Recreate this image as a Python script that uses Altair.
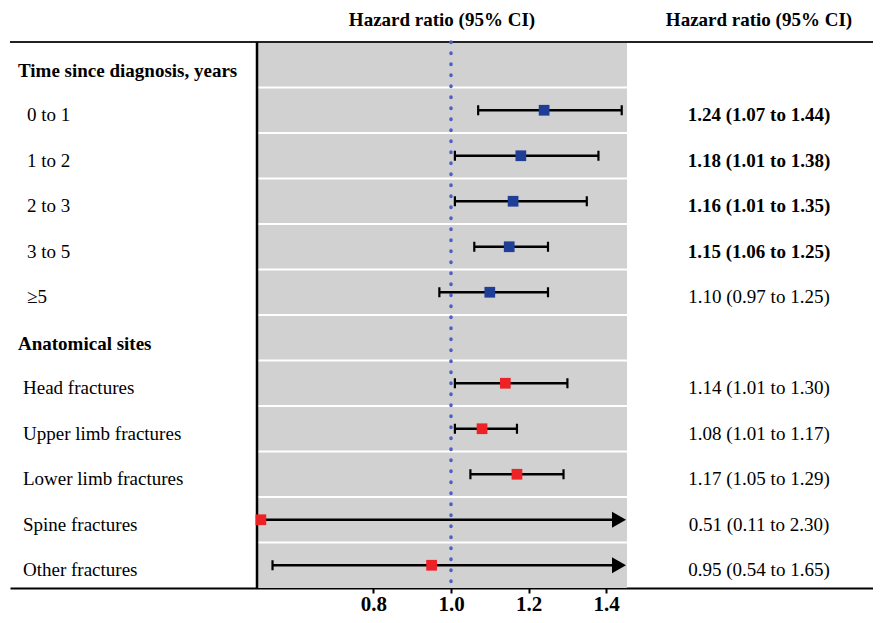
import altair as alt
import pandas as pd

# ---- data ----
labels = ["Time since diagnosis, years", "0 to 1", "1 to 2", "2 to 3", "3 to 5", "\u22655",
          "Anatomical sites", "Head fractures", "Upper limb fractures",
          "Lower limb fractures", "Spine fractures", "Other fractures"]
is_header = [True, False, False, False, False, False, True, False, False, False, False, False]
group = ["time", "time", "time", "time", "time", "time",
         "site", "site", "site", "site", "site", "site"]
hr = [None, 1.24, 1.18, 1.16, 1.15, 1.10, None, 1.14, 1.08, 1.17, 0.51, 0.95]
lo = [None, 1.07, 1.01, 1.01, 1.06, 0.97, None, 1.01, 1.01, 1.05, 0.11, 0.54]
hi = [None, 1.44, 1.38, 1.35, 1.25, 1.25, None, 1.30, 1.17, 1.29, 2.30, 1.65]
bold_ci = [False, True, True, True, True, False, False, False, False, False, False, False]
tick_values = [0.8, 1.0, 1.2, 1.4]
header_text = "Hazard ratio (95% CI)"

# ---- layout (scale space) ----
PX = 388.0                      # pixels per unit HR
X0, X1 = 1 + (10 - 451) / PX, 1 + (873 - 451) / PX
PMIN, PMAX = 0.5, 1 + (627 - 451) / PX
W, H = 863, 580                 # plot area: page x 10..873, y 8 .. 588
TOP = 34                        # top rule, px below plot top
R = (H - TOP) / 12.0            # row height in px
Y0, Y1 = -TOP / R, 12
FONT = "Liberation Serif"
FS = 19

def px2x(p):
    return 1 + (p - 451) / PX

xs = alt.Scale(domain=[X0, X1], nice=False, zero=False)
ys = alt.Scale(domain=[Y0, Y1], nice=False, zero=False, reverse=True)

def X(f, axis=False):
    if axis:
        return alt.X(f, type="quantitative", scale=xs,
                     axis=alt.Axis(values=tick_values, format=".1f", title="", grid=False,
                                   labelFont=FONT, labelFontSize=21, labelFontWeight="bold",
                                   labelColor="black", tickColor="black", tickSize=5,
                                   tickWidth=2, domainColor="black", domainWidth=2,
                                   labelPadding=0))
    return alt.X(f, type="quantitative", scale=xs)

def Y(f):
    return alt.Y(f, type="quantitative", scale=ys, axis=None)

# forest rows
frows = []
for i in range(len(labels)):
    if hr[i] is None:
        continue
    arrow = hi[i] > PMAX
    frows.append(dict(
        yc=i + 0.5, hr=hr[i], lo=lo[i], hi=hi[i],
        lo_c=max(lo[i], PMIN), hi_c=(PMAX - 10 / PX) if arrow else hi[i],
        lo_cap=lo[i] >= PMIN, hi_cap=not arrow, arrow=arrow,
        yc1=i + 0.5 - 0.11, yc2=i + 0.5 + 0.11,
        arrow_x=PMAX - 8 / PX,
        color="#1f3f96" if group[i] == "time" else "#ec2227",
    ))
fdf = pd.DataFrame(frows)

# text rows
trows = []
for i, lab in enumerate(labels):
    if is_header[i]:
        lx = px2x(18)
    elif group[i] == "time":
        lx = px2x(27)
    else:
        lx = px2x(23)
    trows.append(dict(label=lab, lx=lx, yc=i + 0.5, header=is_header[i]))
tdf = pd.DataFrame(trows)

crows = []
for i in range(len(labels)):
    if hr[i] is None:
        continue
    crows.append(dict(txt=f"{hr[i]:.2f} ({lo[i]:.2f} to {hi[i]:.2f})",
                      cx=px2x(759), yc=i + 0.5, bold=bold_ci[i]))
cdf = pd.DataFrame(crows)

hdf = pd.DataFrame(dict(txt=[header_text, header_text],
                        hx=[px2x(442), px2x(759)], hy=[(12 - TOP) / R] * 2))

panel = pd.DataFrame(dict(x1=[PMIN], x2=[PMAX], y1=[0], y2=[12]))
seps = pd.DataFrame(dict(yv=list(range(1, 12)), x1=PMIN, x2=PMAX))

bg = alt.Chart(panel).mark_rect(color="#d0d1d0").encode(
    x=X("x1:Q", axis=True), x2="x2:Q", y=Y("y1:Q"), y2="y2:Q")

sep = alt.Chart(seps).mark_rule(color="white", strokeWidth=2).encode(
    x=X("x1:Q"), x2="x2:Q", y=Y("yv:Q"))

top = alt.Chart(pd.DataFrame(dict(a=[X0], b=[X1], yv=[0]))).mark_rule(
    color="#222222", strokeWidth=2.2).encode(x=X("a:Q"), x2="b:Q", y=Y("yv:Q"))

vline = alt.Chart(pd.DataFrame(dict(xv=[PMIN], a=[0], b=[12]))).mark_rule(
    color="black", strokeWidth=2.5).encode(x=X("xv:Q"), y=Y("a:Q"), y2="b:Q")

dots = alt.Chart(pd.DataFrame(dict(xv=[1.0], a=[0], b=[12]))).mark_rule(
    color="#4b5fc6", strokeWidth=3.5, strokeDash=[0.5, 10.5], strokeCap="round").encode(
    x=X("xv:Q"), y=Y("a:Q"), y2="b:Q")

ci = alt.Chart(fdf).mark_rule(color="black", strokeWidth=2.5).encode(
    x=X("lo_c:Q"), x2="hi_c:Q", y=Y("yc:Q"))

cap_lo = alt.Chart(fdf).transform_filter("datum.lo_cap").mark_rule(
    color="black", strokeWidth=2.2).encode(x=X("lo:Q"), y=Y("yc1:Q"), y2="yc2:Q")
cap_hi = alt.Chart(fdf).transform_filter("datum.hi_cap").mark_rule(
    color="black", strokeWidth=2.2).encode(x=X("hi:Q"), y=Y("yc1:Q"), y2="yc2:Q")

arrows = alt.Chart(fdf).transform_filter("datum.arrow").mark_point(
    shape="triangle-right", filled=True, color="black", opacity=1, size=260).encode(
    x=X("arrow_x:Q"), y=Y("yc:Q"))

pts = alt.Chart(fdf).mark_square(size=115, opacity=1).encode(
    x=X("hr:Q"), y=Y("yc:Q"), color=alt.Color("color:N", scale=None))

lab_h = alt.Chart(tdf).transform_filter("datum.header").mark_text(
    align="left", baseline="middle", dy=6, font=FONT, fontSize=FS, fontWeight="bold",
    color="black").encode(x=X("lx:Q"), y=Y("yc:Q"), text="label:N")
lab_r = alt.Chart(tdf).transform_filter("!datum.header").mark_text(
    align="left", baseline="middle", dy=5, font=FONT, fontSize=FS,
    color="black").encode(x=X("lx:Q"), y=Y("yc:Q"), text="label:N")

ci_b = alt.Chart(cdf).transform_filter("datum.bold").mark_text(
    align="center", baseline="middle", dy=5, font=FONT, fontSize=FS, fontWeight="bold",
    color="black").encode(x=X("cx:Q"), y=Y("yc:Q"), text="txt:N")
ci_r = alt.Chart(cdf).transform_filter("!datum.bold").mark_text(
    align="center", baseline="middle", dy=5, font=FONT, fontSize=FS,
    color="black").encode(x=X("cx:Q"), y=Y("yc:Q"), text="txt:N")

hdr = alt.Chart(hdf).mark_text(
    align="center", baseline="middle", font=FONT, fontSize=FS, fontWeight="bold",
    color="black").encode(x=X("hx:Q"), y=Y("hy:Q"), text="txt:N")

chart = alt.layer(bg, sep, top, vline, dots, ci, cap_lo, cap_hi, arrows, pts,
                  lab_h, lab_r, ci_b, ci_r, hdr).properties(
    width=W, height=H,
    autosize=alt.AutoSizeParams(type="none"),
    padding={"left": 2, "top": 0, "right": 0, "bottom": 27},
    background="white",
).configure_view(strokeWidth=0)

chart.save("out.html", embed_options={"renderer": "svg", "actions": False})
